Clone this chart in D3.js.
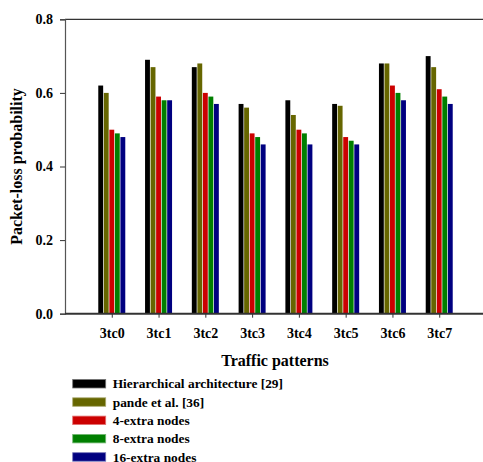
<!DOCTYPE html>
<html>
<head>
<meta charset="utf-8">
<script src="https://cdn.jsdelivr.net/npm/d3@7/dist/d3.min.js"></script>
<style>
  html, body { margin: 0; padding: 0; background: #fff; }
  svg { display: block; }
  text { font-family: "Liberation Serif", "Times New Roman", serif; font-weight: bold; fill: #000; }
</style>
</head>
<body>
<svg id="chart" width="483" height="462"></svg>
<script>
// Traffic patterns on the x axis
const categories = ["3tc0", "3tc1", "3tc2", "3tc3", "3tc4", "3tc5", "3tc6", "3tc7"];

// Series names (legend order)
const seriesNames = [
  "Hierarchical architecture [29]",
  "pande et al. [36]",
  "4-extra nodes",
  "8-extra nodes",
  "16-extra nodes"
];

// Packet-loss probability per traffic pattern
const hierarchical = [0.62, 0.69, 0.67, 0.57, 0.58, 0.57, 0.68, 0.70];
const pande        = [0.60, 0.67, 0.68, 0.56, 0.54, 0.565, 0.68, 0.67];
const extra4       = [0.50, 0.59, 0.60, 0.49, 0.50, 0.48, 0.62, 0.61];
const extra8       = [0.49, 0.58, 0.59, 0.48, 0.49, 0.47, 0.60, 0.59];
const extra16      = [0.48, 0.58, 0.57, 0.46, 0.46, 0.46, 0.58, 0.57];

const yTicks = [0.0, 0.2, 0.4, 0.6, 0.8];
const colors = ["#000000", "#666600", "#cc0000", "#007f00", "#000080"];

const seriesValues = [hierarchical, pande, extra4, extra8, extra16];

const svg = d3.select("#chart");

const plotLeft = 65, plotRight = 486, plotTop = 19.3, plotBottom = 313.7;

const x = d3.scalePoint().domain(categories).range([plotLeft, plotRight]).padding(1);
const inner = d3.scaleBand().domain(seriesNames).range([-13.5, 13.5]).paddingInner(0.12);
const y = d3.scaleLinear().domain([0, 0.8]).range([plotBottom, plotTop]);

// top frame line
svg.append("line")
  .attr("x1", plotLeft).attr("x2", 483)
  .attr("y1", plotTop).attr("y2", plotTop)
  .attr("stroke", "#333").attr("stroke-width", 1.2);

// bars
const groups = svg.append("g").selectAll("g")
  .data(seriesNames)
  .join("g")
  .attr("fill", (d, i) => colors[i]);

groups.selectAll("rect")
  .data((name, i) => categories.map((c, j) => ({ c, name, v: seriesValues[i][j] })))
  .join("rect")
  .attr("x", d => x(d.c) + inner(d.name))
  .attr("width", inner.bandwidth())
  .attr("y", d => y(d.v))
  .attr("height", d => y(0) - y(d.v));

// y axis
const yAxis = svg.append("g")
  .attr("transform", `translate(${plotLeft},0)`)
  .call(d3.axisLeft(y).tickValues(yTicks).tickFormat(d3.format(".1f")).tickSize(5).tickPadding(7));
yAxis.select(".domain").attr("stroke", "#555").attr("stroke-width", 1.2);
yAxis.selectAll(".tick line").attr("stroke", "#333");
yAxis.selectAll("text").style("font-size", "14px").style("font-family", "'Liberation Serif', serif").style("font-weight", "bold");

// x axis
const xAxis = svg.append("g")
  .attr("transform", `translate(0,${plotBottom})`)
  .call(d3.axisBottom(x).tickSize(4).tickPadding(10).tickSizeOuter(0));
xAxis.select(".domain").attr("d", `M${plotLeft},0H483`).attr("stroke", "#333").attr("stroke-width", 2);
xAxis.selectAll(".tick line").attr("stroke", "#333");
xAxis.selectAll("text").style("font-size", "14px").style("font-family", "'Liberation Serif', serif").style("font-weight", "bold");

// axis titles
svg.append("text")
  .attr("transform", "translate(22,166.5) rotate(-90)")
  .attr("text-anchor", "middle")
  .style("font-size", "16px")
  .text("Packet-loss probability");

svg.append("text")
  .attr("x", 275).attr("y", 366)
  .attr("text-anchor", "middle")
  .style("font-size", "16px")
  .text("Traffic patterns");

// legend
const legend = svg.append("g").attr("transform", "translate(72.7,379.5)");
const rows = legend.selectAll("g")
  .data(seriesNames)
  .join("g")
  .attr("transform", (d, i) => `translate(0,${i * 18.3})`);
rows.append("rect")
  .attr("width", 33).attr("height", 8.5)
  .attr("fill", (d, i) => colors[i])
  .attr("stroke", (d, i) => d3.interpolateRgb(colors[i], "#fff")(0.45))
  .attr("stroke-width", 0.8);
rows.append("text")
  .attr("x", 40).attr("y", 8.8)
  .style("font-size", "13.4px")
  .text(d => d);
</script>
</body>
</html>
